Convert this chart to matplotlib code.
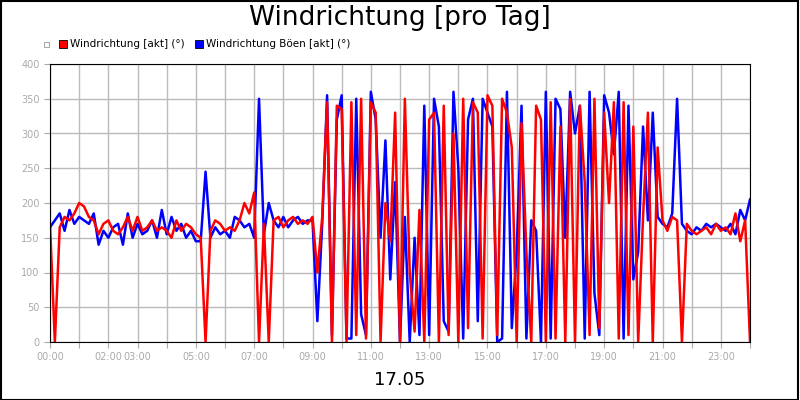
import numpy as np
import matplotlib.pyplot as plt
from matplotlib.patches import Rectangle

# Messwerte alle 10 Minuten, 00:00 bis 24:00
wind_akt = [
    170, 0, 165, 180, 175, 185,
    200, 195, 180, 175, 155, 170,
    175, 160, 155, 165, 180, 160,
    180, 160, 165, 175, 160, 165,
    160, 150, 175, 160, 170, 165,
    155, 150, 0, 160, 175, 170,
    160, 165, 160, 175, 200, 185,
    215, 0, 170, 0, 175, 180,
    165, 175, 180, 170, 175, 170,
    180, 100, 180, 345, 0, 340,
    335, 0, 345, 10, 350, 5,
    345, 330, 0, 200, 145, 330,
    0, 350, 100, 15, 190, 0,
    320, 330, 0, 340, 10, 300,
    0, 350, 20, 345, 330, 5,
    355, 340, 10, 350, 330, 280,
    0, 315, 130, 0, 340, 320,
    0, 345, 5, 310, 0, 350,
    0, 340, 230, 10, 350, 20,
    330, 200, 345, 5, 345, 10,
    310, 0, 180, 330, 0, 280,
    175, 160, 180, 175, 0, 170,
    160, 155, 160, 165, 155, 170,
    160, 165, 155, 185, 145, 175,
    0,
]
wind_boeen = [
    165, 175, 185, 160, 190, 170,
    180, 175, 170, 185, 140, 160,
    150, 165, 170, 140, 185, 150,
    170, 155, 160, 175, 150, 190,
    155, 180, 160, 170, 150, 160,
    145, 145, 245, 150, 165, 155,
    160, 150, 180, 175, 165, 170,
    150, 350, 155, 200, 175, 165,
    180, 165, 175, 180, 170, 175,
    175, 30, 170, 355, 10, 320,
    355, 5, 5, 350, 40, 10,
    360, 320, 150, 290, 90, 230,
    0, 180, 0, 150, 10, 340,
    10, 350, 310, 30, 15, 360,
    250, 5, 320, 350, 30, 350,
    330, 310, 0, 5, 360, 20,
    130, 340, 5, 175, 160, 0,
    360, 5, 350, 335, 150, 360,
    300, 340, 5, 360, 70, 10,
    355, 330, 270, 360, 5, 340,
    90, 130, 310, 175, 330, 180,
    170, 165, 185, 350, 170, 160,
    155, 165, 160, 170, 165, 170,
    165, 160, 170, 155, 190, 175,
    205,
]
tick_labels = ['00:00', '', '02:00', '03:00', '', '05:00', '', '07:00', '', '09:00',
               '', '11:00', '', '13:00', '', '15:00', '', '17:00', '', '19:00',
               '', '21:00', '', '23:00', '']

stunden = np.arange(len(wind_akt)) / 6.0

fig = plt.figure(figsize=(8, 4), dpi=100)
fig.patches.append(Rectangle((0.001, 0.001), 0.997, 0.997, transform=fig.transFigure,
                             fill=False, edgecolor='black', linewidth=1.5))
ax = fig.add_axes([0.0625, 0.145, 0.875, 0.695])

ax.plot(stunden, wind_boeen, color='#0000ff', linewidth=1.8)
ax.plot(stunden, wind_akt, color='#ff0000', linewidth=1.8)

ax.set_xlim(0, 24)
ax.set_ylim(0, 400)
ax.set_xticks(range(25))
ax.set_xticklabels(tick_labels)
ax.set_yticks(range(0, 401, 50))
ax.tick_params(labelsize=7, colors='#aaaaaa', length=4)
ax.grid(True, color='#bbbbbb', linewidth=1)
ax.set_axisbelow(True)
for sp in ax.spines.values():
    sp.set_color('black')

fig.text(0.5, 0.955, 'Windrichtung [pro Tag]', ha='center', va='center', fontsize=19)
fig.text(0.5, 0.05, '17.05', ha='center', va='center', fontsize=13)

# Legende
fig.patches.append(Rectangle((0.055, 0.883), 0.006, 0.012, transform=fig.transFigure,
                             fill=False, edgecolor='#aaaaaa', linewidth=0.8))
fig.patches.append(Rectangle((0.074, 0.88), 0.01, 0.02, transform=fig.transFigure,
                             facecolor='#ff0000', edgecolor='black', linewidth=0.6))
fig.text(0.087, 0.889, 'Windrichtung [akt] (°)', fontsize=7.5, va='center')
fig.patches.append(Rectangle((0.244, 0.88), 0.01, 0.02, transform=fig.transFigure,
                             facecolor='#0000ff', edgecolor='black', linewidth=0.6))
fig.text(0.257, 0.889, 'Windrichtung Böen [akt] (°)', fontsize=7.5, va='center')

fig.savefig('out.png', dpi=100)
